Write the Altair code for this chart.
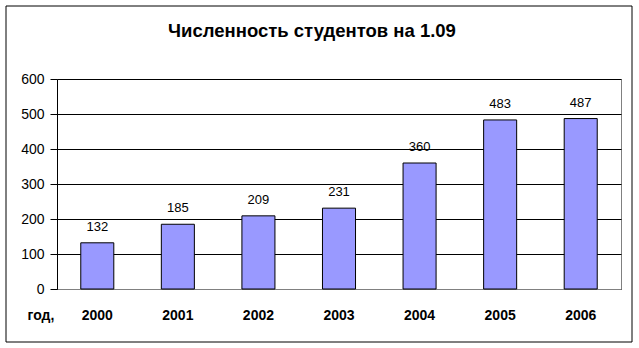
import altair as alt
import pandas as pd

years = ["2000", "2001", "2002", "2003", "2004", "2005", "2006"]
students = [132, 185, 209, 231, 360, 483, 487]
y_ticks = [0, 100, 200, 300, 400, 500, 600]
title_text = "Численность студентов на 1.09"
x_title = "год,"

df = pd.DataFrame({"year": years, "n": students})
FONT = "Liberation Sans"

x_enc = alt.X(
    "year:N",
    sort=years,
    scale=alt.Scale(paddingInner=0.59, paddingOuter=0.295),
    axis=alt.Axis(
        title=x_title, titleX=-30, titleY=26, titleAlign="left", titleAnchor="start",
        titleBaseline="middle", titleFont=FONT, titleFontSize=14, titleFontWeight="bold",
        titleColor="black", labelAngle=0, labelFont=FONT, labelFontSize=14,
        labelFontWeight="bold", labelColor="black", ticks=False, labelPadding=19,
        domainColor="#808080", grid=False,
    ),
)
y_enc = alt.Y(
    "n:Q",
    scale=alt.Scale(domain=[0, 600], nice=False),
    axis=alt.Axis(
        title=None, values=y_ticks, labelFont=FONT, labelFontSize=14, labelColor="black",
        tickColor="black", tickSize=7, labelPadding=6, domainColor="black",
        gridColor="black", gridOpacity=1, labelOverlap=False,
    ),
)

bars = alt.Chart(df).mark_bar(color="#9999FF", stroke="black", strokeWidth=1).encode(
    x=x_enc, y=y_enc
)
labels = alt.Chart(df).mark_text(
    font=FONT, fontSize=13, color="black", baseline="alphabetic", dy=-12
).encode(x=x_enc, y=y_enc, text="n:Q")

frame = alt.Chart(alt.Data(values=[{"a": 1}])).mark_rect(
    fill=None, stroke="black", strokeWidth=1, clip=False
).encode(x=alt.value(-51), x2=alt.value(575), y=alt.value(-73), y2=alt.value(263))

chart = alt.layer(bars, labels, frame).properties(
    width=564,
    height=210,
    autosize=alt.AutoSizeParams(type="none"),
    padding={"left": 57, "top": 79, "right": 18, "bottom": 59},
    background="white",
    title=alt.TitleParams(
        text=title_text, font=FONT, fontSize=18.5, fontWeight="bold", color="black",
        anchor="middle", dx=-27, offset=-35,
    ),
).configure_view(stroke="#808080", strokeWidth=1)

chart.save("out.html", embed_options={"renderer": "svg", "actions": False})
